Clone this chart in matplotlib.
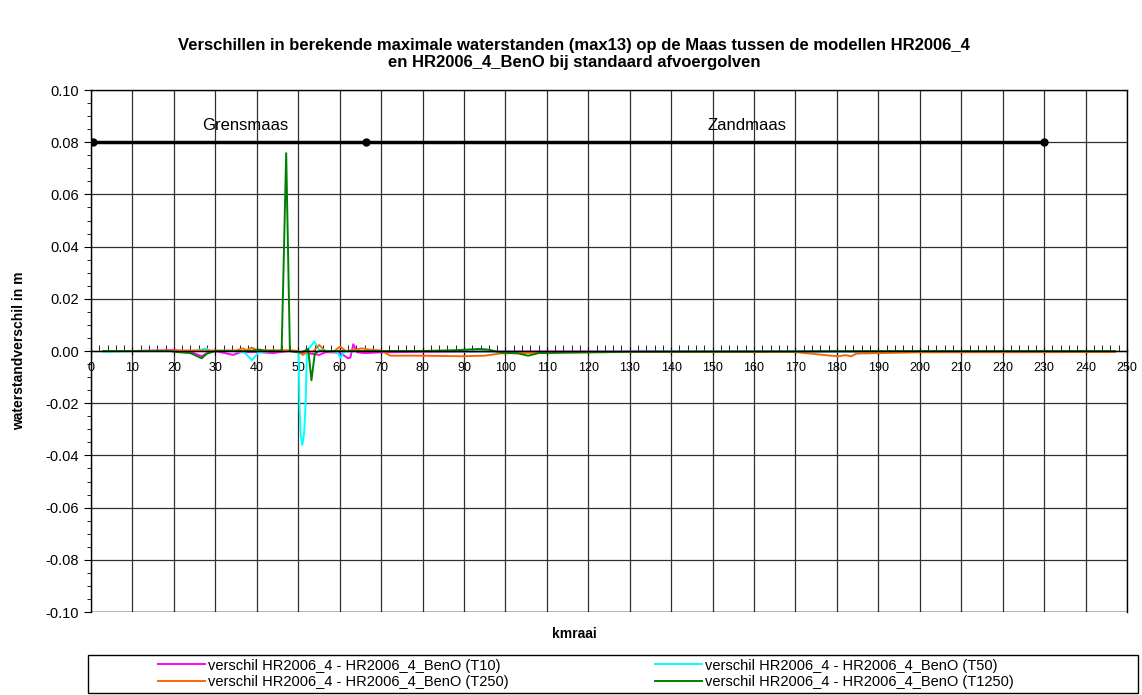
"""
Verschillen maximale waterstanden Maas, HR2006_4 vs HR2006_4_BenO
"""
import matplotlib
matplotlib.use("Agg")
import matplotlib.pyplot as plt
from matplotlib.ticker import MultipleLocator
from matplotlib.patches import Rectangle

plt.rcParams['font.family'] = ['Liberation Sans', 'DejaVu Sans']

# kmraai en verschillen (m)
km_t10 = [3, 10, 20, 24, 26.7, 28, 30, 34.3, 36, 40, 44, 46, 48, 50, 51.5, 53, 55.1, 56.5,
          58, 60, 62.1, 62.6, 63.3, 64.2, 66, 70, 80, 100, 120, 150, 180, 200, 220, 247]
val_t10 = [0.0, 0.0, 0.0003, -0.0003, -0.002, -0.0008, 0.0, -0.0015, -0.0005, -0.0004, -0.0008,
           -0.0003, 0.0, -0.0005, -0.0008, -0.001, -0.0015, -0.0005, -0.0005, -0.0007, -0.0028,
           -0.0025, 0.0026, -0.0005, -0.0008, -0.0005, -0.0003, -0.0002, -0.0002, -0.0002,
           -0.0002, -0.0002, -0.0002, -0.0002]

km_t50 = [3, 10, 20, 25, 27.9, 29, 30, 34, 37, 38.8, 40.5, 44, 48, 49.5, 50.1, 50.3, 50.6,
          51.0, 51.4, 51.8, 52.1, 53.9, 55, 57, 59.5, 60.2, 61, 64, 70, 80, 100, 110, 120,
          150, 180, 200, 247]
val_t50 = [-0.0003, 0.0, 0.0, 0.0, 0.001, -0.0005, 0.0, 0.0, -0.0005, -0.0035, -0.0005, 0.0,
           0.0, 0.0, 0.0, -0.02, -0.032, -0.036, -0.032, -0.02, 0.0, 0.0036, 0.0005, 0.0,
           -0.0005, -0.0026, -0.0003, 0.0, 0.0, 0.0, -0.0003, -0.0004, -0.0003, -0.0002,
           -0.0002, -0.0002, -0.0002]

km_t250 = [3, 10, 20, 30, 35, 36.6, 37.5, 38.8, 40, 44, 48, 50, 51.1, 52.5, 53.5, 55.1, 56.5,
           58.5, 60.1, 61.5, 63, 65.3, 67.3, 70, 72.2, 79, 89.5, 95, 99, 110, 130, 170, 178.5,
           180.5, 182, 183.5, 184.7, 190, 200, 247]
val_t250 = [0.0, 0.0, 0.0002, 0.0002, 0.0002, 0.001, 0.0003, 0.0013, 0.0003, 0.0003, 0.0003,
            0.0, -0.0015, 0.0, -0.0003, 0.0023, 0.0, -0.0003, 0.0017, 0.0, 0.0003, 0.001, 0.0005,
            0.0002, -0.0018, -0.0018, -0.002, -0.0018, -0.0009, -0.0006, -0.0004, -0.0004,
            -0.0018, -0.002, -0.0016, -0.002, -0.001, -0.0008, -0.0005, -0.0004]

km_t1250 = [3, 10, 19, 20.7, 24, 26.7, 28, 30, 34, 38, 40.8, 42, 45, 46.0, 47.1, 48.0, 49,
            50.5, 51.5, 52.4, 53.2, 54, 55, 58, 62, 66, 70, 80, 88, 93.9, 96, 99, 103,
            105.5, 108, 115, 130, 160, 200, 247]
val_t1250 = [0.0, 0.0, 0.0, -0.0004, -0.0008, -0.0028, -0.001, 0.0, 0.0, 0.0, 0.0005, 0.0,
             0.0, 0.0, 0.0758, 0.0, -0.0003, -0.0005, 0.0, 0.0008, -0.0112, -0.001, 0.0, 0.0,
             0.0, 0.0, 0.0, 0.0, 0.0003, 0.0008, 0.0005, -0.0006, -0.0009, -0.0018, -0.0008,
             -0.0006, -0.0003, -0.0002, 0.0, 0.0]

traject_km = [0.5, 66.4, 230]
traject_val = [0.08, 0.08, 0.08]

W, H = 1142, 695
fig = plt.figure(figsize=(W / 100, H / 100), dpi=100)
ax = fig.add_axes([91 / W, 1 - 612 / H, 1036 / W, 522 / H])

lab = "verschil HR2006_4 - HR2006_4_BenO "
l10, = ax.plot(km_t10, val_t10, color="#FF00FF", lw=1.4, label=lab + "(T10)")
l50, = ax.plot(km_t50, val_t50, color="#00FFFF", lw=1.4, label=lab + "(T50)")
l250, = ax.plot(km_t250, val_t250, color="#FF6600", lw=1.4, label=lab + "(T250)")
l1250, = ax.plot(km_t1250, val_t1250, color="#008000", lw=1.4, label=lab + "(T1250)")

ax.plot(traject_km, traject_val, color="black", lw=2.5, marker="o", ms=5, zorder=5)
ax.text(37.2, 0.0865, "Grensmaas", ha="center", va="center", fontsize=12)
ax.text(158.3, 0.0865, "Zandmaas", ha="center", va="center", fontsize=12)

ax.set_xlim(0, 250)
ax.set_ylim(-0.1, 0.1)
ax.xaxis.set_major_locator(MultipleLocator(10))
ax.xaxis.set_minor_locator(MultipleLocator(2))
ax.yaxis.set_major_locator(MultipleLocator(0.02))
ax.yaxis.set_minor_locator(MultipleLocator(0.005))
ax.yaxis.set_major_formatter(plt.FuncFormatter(lambda v, p: "%.2f" % (round(v, 4) + 0.0)))

ax.spines["bottom"].set_position(("data", 0))
for s in ax.spines.values():
    s.set_linewidth(1.0)
ax.axhline(-0.1, color="black", lw=1.0)
ax.tick_params(axis="x", which="major", direction="inout", length=6, labelsize=9, pad=5)
ax.tick_params(axis="x", which="minor", direction="in", length=4)
ax.tick_params(axis="y", which="major", direction="out", length=5, labelsize=10.5)
ax.tick_params(axis="y", which="minor", direction="out", length=3)
ax.grid(True, which="major", color="#303030", lw=0.9)
ax.set_axisbelow(True)

ax.set_ylabel("waterstandverschil in m", fontsize=10, fontweight="bold", labelpad=14)
fig.text(0.503, 1 - 634 / H, "kmraai", ha="center", va="center", fontsize=10,
         fontweight="bold")
fig.text(0.503, 1 - 54 / H,
         "Verschillen in berekende maximale waterstanden (max13) op de Maas tussen de modellen HR2006_4\n"
         "en HR2006_4_BenO bij standaard afvoergolven",
         ha="center", va="center", fontsize=12, fontweight="bold", linespacing=1.1)

# legenda: kader plus twee kolommen
fig.patches.append(Rectangle((88 / W, 2 / H), 1050 / W, 38 / H, transform=fig.transFigure,
                             fill=False, edgecolor="black", lw=1.0))
for hs, x0 in (([l10, l250], 158), ([l50, l1250], 655)):
    fig.legend(hs, [h.get_label() for h in hs], loc="center left",
               bbox_to_anchor=(x0 / W, 21 / H), frameon=False, fontsize=10.5,
               borderpad=0, labelspacing=0.2, handlelength=3.2, handletextpad=0.2,
               borderaxespad=0)

fig.savefig("out.png", dpi=100)
